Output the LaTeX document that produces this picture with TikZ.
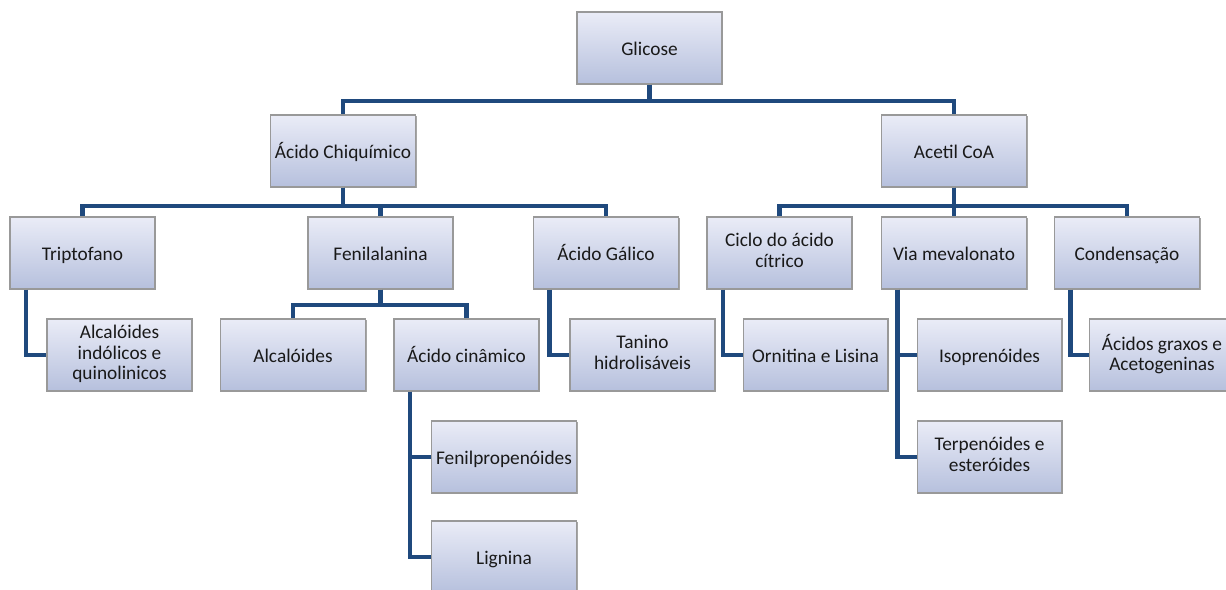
\documentclass[tikz,border=0pt]{standalone}
\usepackage{fontspec}
\setmainfont{Carlito}
\usetikzlibrary{positioning,shadows,calc}
\definecolor{linkblue}{RGB}{31,73,125}
\definecolor{boxtop}{RGB}{234,236,247}
\definecolor{boxbot}{RGB}{182,192,221}
\begin{document}
\begin{tikzpicture}[
    x=0.02cm, y=-0.02cm,
    font=\fontsize{11}{11.6}\selectfont,
    field/.style={draw=black!40, line width=0.6pt, top color=boxtop, bottom color=boxbot,
      minimum width=2.9cm, minimum height=1.44cm, align=center, text=black!90, inner sep=1pt,
      execute at begin node={\rule{0pt}{11pt}}, execute at end node={\rule[-3pt]{0pt}{3pt}},
      drop shadow={shadow xshift=0.7pt, shadow yshift=-0.7pt, fill=black!50, opacity=0.7}},
    link/.style={draw=linkblue, line width=2.3pt}
]
\useasboundingbox (0,0) rectangle (1226,589);

% top levels
\node[field] (glc) at (649.5,48) {Glicose};
\node[field] (chq) at (343,151) {Ácido Chiquímico};
\node[field] (acc) at (954,151) {Acetil CoA};

% second level
\node[field] (trp) at (82.5,253) {Triptofano};
\node[field] (fen) at (380.5,253) {Fenilalanina};
\node[field] (gal) at (606,253) {Ácido Gálico};
\node[field] (cic) at (779.5,253) {Ciclo do ácido\\cítrico};
\node[field] (mev) at (954,253) {Via mevalonato};
\node[field] (con) at (1127,253) {Condensação};

% third level
\node[field] (ind) at (119.5,355) {Alcalóides\\indólicos e\\quinolinicos};
\node[field] (alc) at (293,355) {Alcalóides};
\node[field] (cin) at (466.5,355) {Ácido cinâmico};
\node[field] (tan) at (642.5,355) {Tanino\\hidrolisáveis};
\node[field] (orn) at (815.5,355) {Ornitina e Lisina};
\node[field] (iso) at (989.5,355) {Isoprenóides};
\node[field] (agr) at (1162,355) {Ácidos graxos e\\Acetogeninas};

% fourth level
\node[field] (fpp) at (504,457) {Fenilpropenóides};
\node[field] (lig) at (504,557) {Lignina};
\node[field] (ter) at (989.5,457) {Terpenóides e\\esteróides};

% tree connectors
\foreach \j in {chq, acc}
  \draw[link] (glc.south) -- ++(0,16) -| (\j.north);
\foreach \j in {trp, fen, gal}
  \draw[link] (chq.south) -- ++(0,18) -| (\j.north);
\foreach \j in {cic, mev, con}
  \draw[link] (acc.south) -- ++(0,18) -| (\j.north);
\foreach \j in {alc, cin}
  \draw[link] (fen.south) -- ++(0,15) -| (\j.north);

% side connectors
\foreach \i/\j in {trp/ind, gal/tan, cic/orn, mev/iso, mev/ter, con/agr, cin/fpp, cin/lig}
  \draw[link] ([xshift=0.33cm]\i.south west) |- (\j.west);

\end{tikzpicture}
\end{document}
